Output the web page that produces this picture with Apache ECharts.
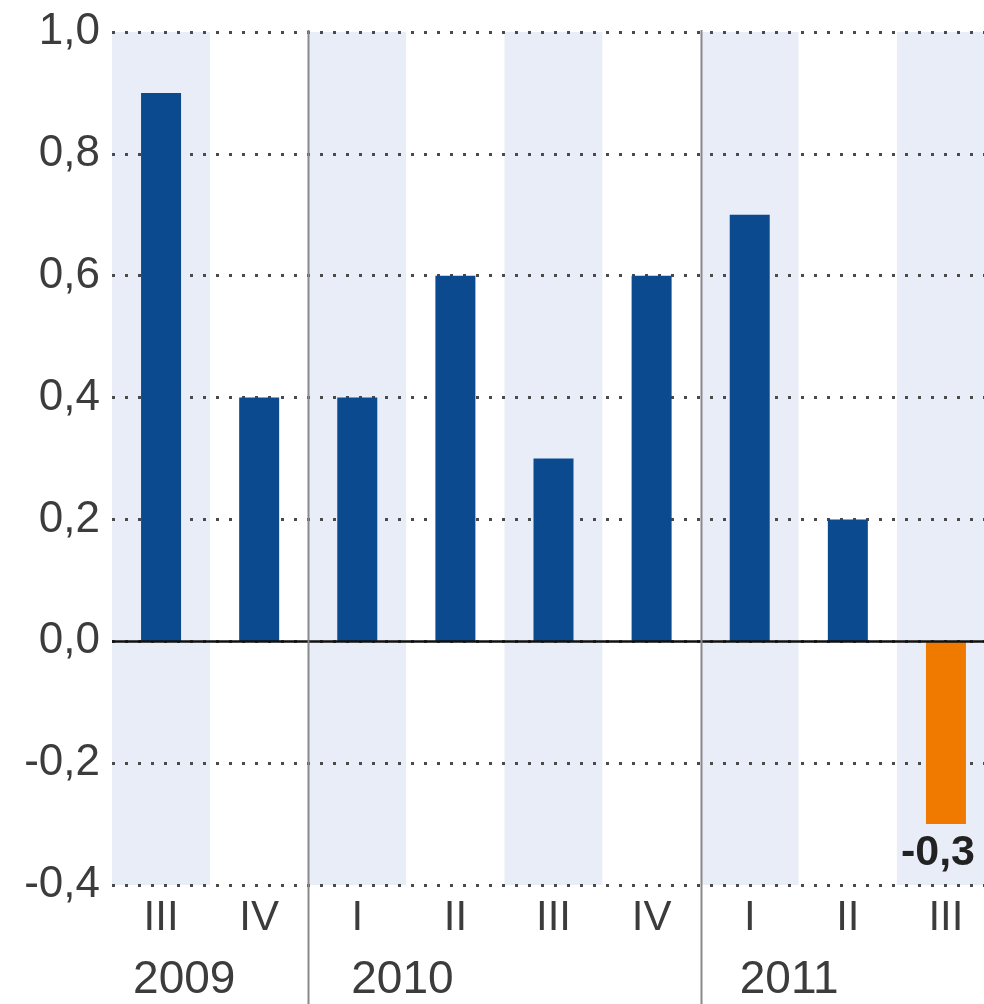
<!DOCTYPE html>
<html>
<head>
<meta charset="utf-8">
<script src="https://cdn.jsdelivr.net/npm/echarts@6/dist/echarts.min.js"></script>
<style>
html,body{margin:0;padding:0;background:#fff;overflow:hidden;width:984px;height:1004px;}
#c{width:995px;height:1004px;}
</style>
</head>
<body>
<div id="c"></div>
<script>
const quarters = ['III', 'IV', 'I', 'II', 'III', 'IV', 'I', 'II', 'III'];
const values = [0.9, 0.4, 0.4, 0.6, 0.3, 0.6, 0.7, 0.2, -0.3];
const years = ['2009', '2010', '2011'];
const yearStartIndex = [0, 2, 6];
const yTickMin = -0.4, yTickMax = 1.0, yTickStep = 0.2;

const FONT = '"Liberation Sans", Arial, sans-serif';
const chart = echarts.init(document.getElementById('c'), null, {renderer: 'canvas'});

const option = {
  backgroundColor: '#ffffff',
  animation: false,
  grid: {left: 112, top: 32, right: 0, bottom: 119, containLabel: false},
  xAxis: {
    type: 'category',
    z: 0,
    data: quarters.map((q, i) => i),
    axisLine: {show: false, onZero: false},
    axisTick: {show: false},
    axisLabel: {
      margin: 12,
      color: '#3c3c3c',
      fontFamily: FONT,
      fontSize: 42,
      formatter: (v) => quarters[+v]
    },
    splitLine: {show: false},
    splitArea: {show: true, areaStyle: {color: ['#e9edf8', '#ffffff']}}
  },
  yAxis: {
    type: 'value',
    z: 1,
    min: yTickMin, max: yTickMax, interval: yTickStep,
    axisLine: {show: false},
    axisTick: {show: false},
    axisLabel: {
      margin: 12,
      color: '#3c3c3c',
      fontFamily: FONT,
      fontSize: 44,
      formatter: (v) => v.toFixed(1).replace('.', ',')
    },
    splitLine: {show: true, lineStyle: {color: '#4a4a4a', width: 3, type: [3, 10]}}
  },
  series: [{
    type: 'bar',
    z: 3,
    barWidth: 40,
    data: values.map(v => ({
      value: v,
      itemStyle: {color: v < 0 ? '#f07a00' : '#0b4a8f'},
      label: v < 0 ? {
        show: true, position: 'bottom', distance: 8, offset: [-8, 0],
        formatter: () => v.toFixed(1).replace('.', ','),
        color: '#222', fontWeight: 'bold', fontFamily: FONT, fontSize: 43
      } : {show: false}
    })),
    markLine: {
      silent: true, symbol: 'none',
      label: {show: false},
      lineStyle: {color: '#111', width: 2.5, type: 'solid'},
      data: [{yAxis: 0}]
    }
  }]
};
chart.setOption(option);

// year separators and year labels placed via the chart's own scale
const yearLabelOffsets = [-28, -6, -10];
const graphics = [];
const topY = chart.convertToPixel({yAxisIndex: 0}, yTickMax);
yearStartIndex.forEach((idx, k) => {
  const cx = chart.convertToPixel({xAxisIndex: 0}, idx);
  if (idx > 0) {
    const prev = chart.convertToPixel({xAxisIndex: 0}, idx - 1);
    const bx = Math.round((cx + prev) / 2) + 0.5;
    graphics.push({
      type: 'line', z: 5, silent: true,
      shape: {x1: bx, y1: topY - 2, x2: bx, y2: 1004},
      style: {stroke: '#8a8a8a', lineWidth: 2}
    });
  }
  graphics.push({
    type: 'text', z: 5, silent: true,
    x: cx + yearLabelOffsets[k], y: 980,
    style: {text: years[k], fill: '#3c3c3c', font: '46px ' + FONT, textAlign: 'left', textVerticalAlign: 'middle'}
  });
});
chart.setOption({graphic: graphics});
</script>
</body>
</html>
